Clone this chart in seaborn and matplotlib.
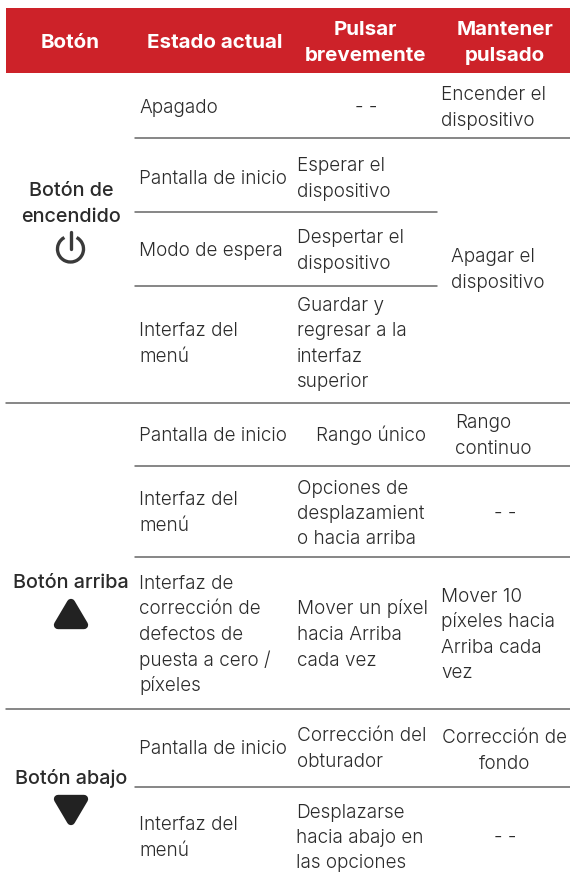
import matplotlib.pyplot as plt
from matplotlib.patches import Arc, Polygon, Rectangle
import seaborn as sns
import pandas as pd

sns.set_theme(style="white")
plt.rcParams["font.family"] = ["Inter", "DejaVu Sans"]

RED = "#CD2229"
DARK = "#2b2b2b"
BODY_SIZE = 13.65
LINE = 25.5

header_labels = ["Botón", "Estado actual", "Pulsar\nbrevemente", "Mantener\npulsado"]
button_labels = ["Botón de\nencendido", "Botón arriba", "Botón abajo"]
state_labels = ["Apagado", "Pantalla de inicio", "Modo de espera", "Interfaz del\nmenú",
                "Pantalla de inicio", "Interfaz del\nmenú",
                "Interfaz de\ncorrección de\ndefectos de\npuesta a cero /\npíxeles",
                "Pantalla de inicio", "Interfaz del\nmenú"]
short_labels = ["- -", "Esperar el\ndispositivo", "Despertar el\ndispositivo",
                "Guardar y\nregresar a la\ninterfaz\nsuperior", "Rango único",
                "Opciones de\ndesplazamient\no hacia arriba",
                "Mover un píxel\nhacia Arriba\ncada vez", "Corrección del\nobturador",
                "Desplazarse\nhacia abajo en\nlas opciones"]
long_labels = ["Encender el\ndispositivo", "Apagar el\ndispositivo", "Rango\ncontinuo", "- -",
               "Mover 10\npíxeles hacia\nArriba cada\nvez", "Corrección de\nfondo", "- -"]

# layout in pixels: x anchor, y of block centre
header_x = [70.5, 214.5, 365.5, 505]
button_y = [202, 581, 777]
state_y = [106, 177, 249, 342, 434, 511, 633, 747, 836]
short_x = [366, 297, 297, 297, 370.5, 297, 297, 297, 296]
short_ha = ["center", "left", "left", "left", "center", "left", "left", "left", "left"]
short_y = [106, 177, 249, 342, 434, 512, 633, 747, 836]
long_x = [441, 451, 455, 505, 441, 505, 505]
long_ha = ["left", "left", "left", "center", "left", "center", "center"]
long_y = [106, 268, 434, 512, 633, 749, 836]

rule_start = [135, 135, 135, 6, 135, 135, 6, 135]
rule_end = [570, 437, 437, 570, 570, 570, 570, 570]
rule_y = [138, 212, 286, 403, 466, 557, 709, 787]


def block(ax, x, y, text, ha="left", color=DARK, size=BODY_SIZE, weight=300):
    # centre a multi line block around y, one baseline per line
    lines = text.split("\n")
    top = y - LINE * (len(lines) - 1) / 2
    for k, line in enumerate(lines):
        ax.text(x, top + k * LINE + 7, line, ha=ha, va="baseline", color=color,
                fontsize=size, fontweight=weight)


fig, ax = plt.subplots(figsize=(5.7, 8.89), dpi=100)
fig.subplots_adjust(0, 0, 1, 1)

ax.add_patch(Rectangle((6, 8), 564, 65, color=RED, lw=0))

rules = pd.DataFrame({
    "x": rule_start + rule_end,
    "y": rule_y + rule_y,
    "rule": list(range(len(rule_y))) * 2,
})
sns.lineplot(data=rules, x="x", y="y", units="rule", estimator=None, color="#666666",
             linewidth=1.1, ax=ax, legend=False)

ax.set_xlim(0, 570)
ax.set_ylim(889, 0)
ax.axis("off")

for x, label in zip(header_x, header_labels):
    block(ax, x, 41, label, ha="center", color="white", size=14.8, weight=700)
for y, label in zip(button_y, button_labels):
    block(ax, 71, y, label, ha="center", size=14.3, weight=500)
for y, label in zip(state_y, state_labels):
    block(ax, 139, y, label)
for x, y, ha, label in zip(short_x, short_y, short_ha, short_labels):
    block(ax, x, y, label, ha=ha)
for x, y, ha, label in zip(long_x, long_y, long_ha, long_labels):
    block(ax, x, y, label, ha=ha)

# power icon under the first button label
ax.add_patch(Arc((70.5, 249), 26, 26, theta1=-62, theta2=242, color="#3a3a3a", lw=2.4))
ax.plot([70.5, 70.5], [232, 249], color="#3a3a3a", lw=2.4, solid_capstyle="round")

# rounded triangles
ax.add_patch(Polygon([(71, 603), (58, 625), (84, 625)], closed=True, facecolor="#222222",
                     edgecolor="#222222", lw=6, joinstyle="round"))
ax.add_patch(Polygon([(58, 799), (84, 799), (71, 821)], closed=True, facecolor="#222222",
                     edgecolor="#222222", lw=6, joinstyle="round"))

plt.savefig("out.png", dpi=100)
